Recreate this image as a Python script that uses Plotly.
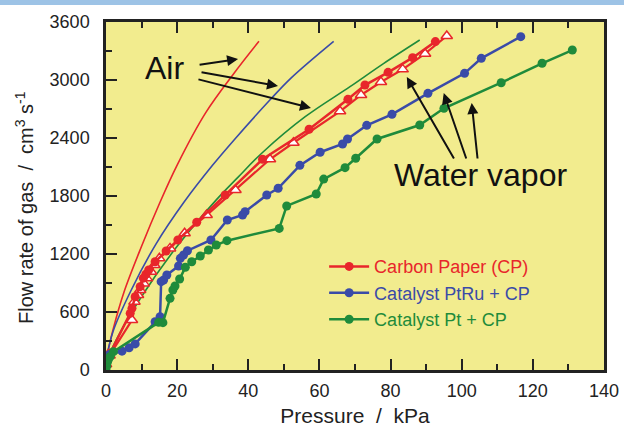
import plotly.graph_objects as go

# ---- data ----
air_cp_x = [0, 2, 5, 10, 15, 20, 28, 36, 43]
air_cp_y = [100, 420, 800, 1280, 1720, 2120, 2660, 3070, 3400]
air_ptru_x = [0, 2, 7, 14, 22, 30, 36, 46, 52, 64]
air_ptru_y = [100, 400, 820, 1300, 1740, 2120, 2380, 2790, 3020, 3400]
air_pt_x = [0, 3, 10, 20, 31, 37, 44, 56, 68.6, 78, 88.2]
air_pt_y = [80, 320, 760, 1280, 1760, 1990, 2250, 2620, 2931, 3170, 3414]

cp_x = [0, 1.2, 6.8, 7.3, 8.2, 9.6, 10.5, 11.2, 12.0, 13.8, 16.9, 20.2, 25.5, 33.5,
        44.0, 57.1, 68.0, 72.8, 79.3, 86.2, 92.6]
cp_y = [80, 176, 586, 638, 758, 862, 950, 990, 1034, 1120, 1231, 1345, 1528, 1810,
        2180, 2490, 2800, 2948, 3079, 3231, 3397]

cp2_x = [0, 1, 7.3, 8.0, 9.0, 9.6, 10.6, 11.5, 12.7, 13.6, 15.0, 18.0, 22.1, 28.3,
         36.4, 46.1, 52.7, 65.8, 71.7, 77.3, 83.4, 89.7, 95.8]
cp2_y = [60, 150, 517, 707, 776, 828, 896, 948, 1017, 1086, 1155, 1258, 1414, 1603,
         1862, 2180, 2351, 2676, 2845, 2979, 3110, 3272, 3455]

ptru_x = [0, 1.0, 4.5, 6.5, 8.2, 13.8, 15.2, 15.5, 16.2, 17.1, 20.4, 20.9, 21.8, 22.9,
          29.5, 34.1, 38.4, 39.1, 45.2, 48.4, 54.5, 60.2, 66.5, 67.9, 73.3, 80.4,
          90.5, 100.8, 105.5, 116.6]
ptru_y = [60, 160, 195, 230, 270, 500, 552, 914, 931, 983, 1076, 1155, 1190, 1234,
          1345, 1552, 1603, 1638, 1810, 1880, 2117, 2253, 2338, 2390, 2531, 2645,
          2862, 3069, 3224, 3448]

pt_x = [0, 0.2, 0.4, 0.7, 1.2, 2.1, 14.8, 16.0, 18.0, 18.8, 19.4, 20.7, 22.3, 24.1,
        26.5, 28.8, 31.0, 34.0, 48.7, 50.8, 59.1, 61.2, 67.2, 70.2, 76.2, 88.2, 95.0,
        111.1, 122.6, 131.1]
pt_y = [0, 40, 80, 110, 140, 190, 493, 490, 741, 828, 869, 941, 1062, 1120,
        1179, 1241, 1293, 1338, 1465, 1697, 1821, 1975, 2093, 2190, 2390, 2534, 2707,
        2972, 3173, 3310]

RED = "#E8262B"
BLUE = "#3A4BA8"
GREEN = "#1F8B3B"
BG = "#F2EC8E"
FONT = "Arial, Liberation Sans, sans-serif"

fig = go.Figure()

for xs, ys, c in [(air_cp_x, air_cp_y, RED), (air_ptru_x, air_ptru_y, BLUE), (air_pt_x, air_pt_y, GREEN)]:
    fig.add_trace(go.Scatter(x=xs, y=ys, mode="lines", line=dict(color=c, width=1.6, shape="spline"),
                             showlegend=False, hoverinfo="skip"))

fig.add_trace(go.Scatter(x=cp2_x, y=cp2_y, mode="lines+markers",
                         line=dict(color=RED, width=2.2),
                         marker=dict(symbol="triangle-up", size=10, color="white",
                                     line=dict(color=RED, width=1.5)),
                         showlegend=False))
fig.add_trace(go.Scatter(x=cp_x, y=cp_y, mode="lines+markers",
                         name=f"<span style='color:{RED}'>Carbon Paper (CP)</span>",
                         line=dict(color=RED, width=2.5), marker=dict(size=9, color=RED)))
fig.add_trace(go.Scatter(x=ptru_x, y=ptru_y, mode="lines+markers",
                         name=f"<span style='color:{BLUE}'>Catalyst PtRu + CP</span>",
                         line=dict(color=BLUE, width=2.5), marker=dict(size=9, color=BLUE)))
fig.add_trace(go.Scatter(x=pt_x, y=pt_y, mode="lines+markers",
                         name=f"<span style='color:{GREEN}'>Catalyst Pt + CP</span>",
                         line=dict(color=GREEN, width=2.5), marker=dict(size=9, color=GREEN)))

W, H = 624, 427
ml, mr, mt, mb = 106, 20, 22, 57
ph = H - mt - mb
pw = W - ml - mr

axis_common = dict(showgrid=False, zeroline=False, showline=True, linecolor="#222",
                   linewidth=2.5, ticks="inside", ticklen=11, tickwidth=2, tickcolor="#222",
                   tickfont=dict(size=18, color="#222", family=FONT))

fig.update_xaxes(range=[0, 140], dtick=20, tick0=0, mirror="allticks", ticklabelstandoff=3,
                 minor=dict(dtick=10, ticks="inside", ticklen=6, tickwidth=2, tickcolor="#222"),
                 title=dict(text="Pressure\u00a0 /\u00a0 kPa", font=dict(size=21, color="#222", family=FONT),
                            standoff=9),
                 **axis_common)
fig.update_yaxes(range=[0, 3600], dtick=600, tick0=0, mirror=True, ticklabelstandoff=10,
                 minor=dict(dtick=300, ticks="inside", ticklen=6, tickwidth=2, tickcolor="#222"),
                 **axis_common)


def px_to_data(px, py):
    x = (px - 105.7) / 3.563
    y = (370 - py) / 0.09667
    return x, y


ann = []
# y-axis title as rotated annotation
ann.append(dict(xref="paper", yref="paper", x=(24 - ml) / pw, y=(370 - 208) / ph,
                xanchor="center", yanchor="middle", textangle=-90, showarrow=False,
                text="Flow rate of gas\u00a0 /\u00a0 cm<sup>3</sup> s<sup>-1</sup>",
                font=dict(size=20, color="#222", family=FONT)))
ax_, ay_ = px_to_data(164, 68)
ann.append(dict(x=ax_, y=ay_, text="Air", showarrow=False,
                font=dict(size=32, color="#111", family=FONT)))
wx, wy = px_to_data(481, 175)
ann.append(dict(x=wx, y=wy, text="Water vapor", showarrow=False,
                font=dict(size=32, color="#111", family=FONT)))
for (tx, ty), (hx, hy) in [((198, 65), (238, 59)), ((200, 72), (278, 86)), ((197, 79), (311, 108)),
                            ((455, 160), (407, 77)), ((467, 160), (444, 93)), ((478, 160), (472, 103))]:
    hxd, hyd = px_to_data(hx, hy)
    ann.append(dict(x=hxd, y=hyd, ax=tx - hx, ay=ty - hy, axref="pixel", ayref="pixel",
                    text="", showarrow=True, arrowhead=2, arrowsize=1.1, arrowwidth=2,
                    arrowcolor="#111"))

fig.update_layout(
    width=W, height=H,
    margin=dict(l=ml, r=mr, t=mt, b=mb, autoexpand=False),
    paper_bgcolor="white", plot_bgcolor=BG,
    font=dict(family=FONT, color="#222"),
    legend=dict(x=0.438, y=0.35, xanchor="left", yanchor="top", bgcolor="rgba(0,0,0,0)",
                font=dict(size=18, family=FONT), tracegroupgap=0, itemwidth=40),
    annotations=ann,
    shapes=[dict(type="rect", xref="paper", yref="paper", x0=-1, x1=2,
                 y0=1 + (mt - 5) / ph, y1=1 + (mt + 2) / ph,
                 fillcolor="#9DC3E6", line=dict(width=0), layer="above")],
)

fig.write_html("out.html", config={"displayModeBar": False},
               post_script="document.body.style.margin='0';document.body.style.overflow='hidden';")
